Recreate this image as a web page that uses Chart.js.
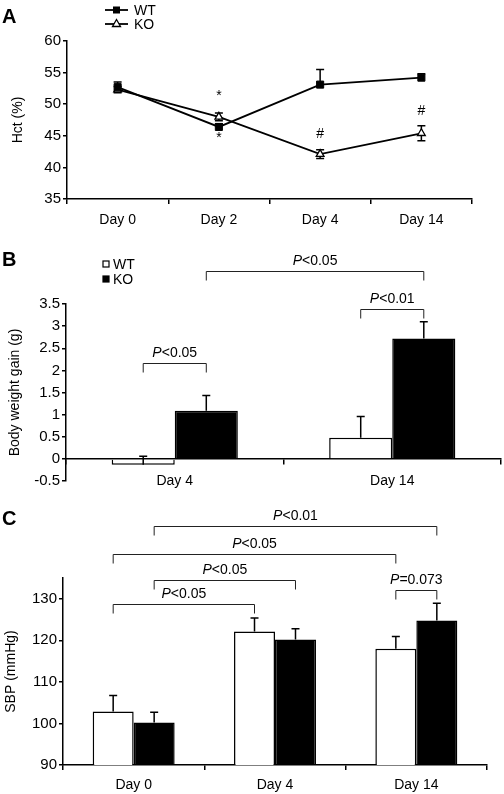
<!DOCTYPE html>
<html>
<head>
<meta charset="utf-8">
<script src="https://cdn.jsdelivr.net/npm/chart.js@4/dist/chart.umd.min.js"></script>
<style>
  html,body{margin:0;padding:0;background:#fff;}
  #wrap{position:relative;width:504px;height:794px;}
  canvas{position:absolute;left:0;}
</style>
</head>
<body>
<div id="wrap">
  <canvas id="cA" width="504" height="232" style="top:0"></canvas>
  <canvas id="cB" width="504" height="260" style="top:232px"></canvas>
  <canvas id="cC" width="504" height="302" style="top:492px"></canvas>
</div>
<script>
// panel A - hematocrit
const hctDays=['Day 0','Day 2','Day 4','Day 14'];
const hctWT=[52.7,46.4,53.1,54.2];
const hctWTerr=[0.8,0.5,2.4,0.6];
const hctKO=[52.3,48.0,42.1,45.4];
const hctKOerr=[0.5,0.6,0.7,1.2];
// [day, level, symbol]
const hctMarks=[[1,51.3,'*'],[1,44.6,'*'],[2,45.3,'#'],[3,48.9,'#']];

// panel B - body weight gain
const bwDays=['Day 4','Day 14'];
const bwWT=[-0.13,0.48];
const bwWTerr=[0.19,0.48];
const bwKO=[1.09,2.72];
const bwKOerr=[0.34,0.38];
// [dataset, day, dataset, day, level, text]
const bwBrackets=[[0,0,1,0,2.17,'P<0.05'],[0,1,1,1,3.39,'P<0.01'],[1,0,1,1,4.25,'P<0.05']];

// panel C - systolic blood pressure
const sbpDays=['Day 0','Day 4','Day 14'];
const sbpWT=[102.9,122.1,118.0];
const sbpWTerr=[3.8,3.3,2.9];
const sbpKO=[100.2,120.2,124.8];
const sbpKOerr=[2.5,2.6,4.1];
const sbpBrackets=[[0,0,0,1,128.8,'P<0.05'],[1,0,1,1,134.4,'P<0.05'],[0,0,0,2,140.7,'P<0.05'],[1,0,1,2,147.5,'P<0.01'],[0,2,1,2,132,'P=0.073']];

const F='"Liberation Sans", Arial, Helvetica, sans-serif';
Chart.defaults.font.family=F;
Chart.defaults.font.size=14;
Chart.defaults.color='#000';

function pText(ctx,s,x,y){
  let head='',rest=s;
  if(s[0]==='P'){head='P';rest=s.slice(1);}
  ctx.font='italic 14px '+F;
  const w1=ctx.measureText(head).width;
  ctx.font='14px '+F;
  const w2=ctx.measureText(rest).width;
  const x0=x-(w1+w2)/2;
  ctx.textAlign='left';ctx.textBaseline='middle';
  ctx.font='italic 14px '+F; ctx.fillText(head,x0,y);
  ctx.font='14px '+F; ctx.fillText(rest,x0+w1,y);
}

function drawErrors(chart,err){
  const ctx=chart.ctx, ys=chart.scales.y;
  ctx.save();
  ctx.strokeStyle='#000';ctx.lineWidth=1.5;
  err.forEach((e,i)=>{
    const meta=chart.getDatasetMeta(i);
    const vals=chart.data.datasets[i].data;
    e.v.forEach((d,j)=>{
      const x=meta.data[j].x;
      const top=ys.getPixelForValue(vals[j]+d);
      const bot=ys.getPixelForValue(e.both ? vals[j]-d : vals[j]);
      ctx.beginPath();
      ctx.moveTo(x,bot);ctx.lineTo(x,top);
      ctx.moveTo(x-4,top);ctx.lineTo(x+4,top);
      if(e.both){ctx.moveTo(x-4,bot);ctx.lineTo(x+4,bot);}
      ctx.stroke();
    });
  });
  ctx.restore();
}

function figure(cfg){
  return {
    id:'figure'+cfg.letter,
    beforeDatasetsDraw(chart){ if(cfg.errBehind) drawErrors(chart,cfg.err); },
    afterDatasetsDraw(chart){ if(!cfg.errBehind) drawErrors(chart,cfg.err); },
    afterDraw(chart){
      const ctx=chart.ctx, ys=chart.scales.y, xs=chart.scales.x;
      ctx.save();
      ctx.fillStyle='#000';ctx.strokeStyle='#000';
      ctx.font='bold 20px '+F;ctx.textBaseline='middle';ctx.textAlign='left';
      ctx.fillText(cfg.letter,cfg.letterAt[0],cfg.letterAt[1]);

      // legend
      const lg=cfg.legend;
      if(lg) chart.data.datasets.forEach((ds,i)=>{
        const y=lg.y+i*lg.gap;
        if(lg.kind==='line'){
          ctx.lineWidth=1.8;
          ctx.beginPath();ctx.moveTo(lg.x,y);ctx.lineTo(lg.x+23,y);ctx.stroke();
          const cx=lg.x+11.5;
          ctx.lineWidth=1.3;
          if(ds.pointStyle==='rect'){
            ctx.fillRect(cx-3.5,y-3.5,7,7);
          }else{
            ctx.beginPath();ctx.moveTo(cx,y-4.5);ctx.lineTo(cx+4,y+2.5);ctx.lineTo(cx-4,y+2.5);ctx.closePath();
            ctx.fillStyle='#fff';ctx.fill();ctx.stroke();ctx.fillStyle='#000';
          }
          ctx.font='14px '+F;ctx.fillText(ds.label,lg.x+29,y+1);
        }else{
          ctx.lineWidth=1.2;
          ctx.fillStyle=ds.backgroundColor;
          ctx.fillRect(lg.x,y-3,6,6);
          ctx.strokeRect(lg.x,y-3,6,6);
          ctx.fillStyle='#000';
          ctx.font='14px '+F;ctx.fillText(ds.label,lg.x+10,y+1);
        }
      });

      // significance brackets
      (cfg.brackets||[]).forEach(b=>{
        const x1=chart.getDatasetMeta(b[0]).data[b[1]].x;
        const x2=chart.getDatasetMeta(b[2]).data[b[3]].x;
        const y=Math.round(ys.getPixelForValue(b[4]))+0.5;
        ctx.lineWidth=1;ctx.strokeStyle='#222';
        ctx.beginPath();
        ctx.moveTo(x1,y+9);ctx.lineTo(x1,y);ctx.lineTo(x2,y);ctx.lineTo(x2,y+9);
        ctx.stroke();
        pText(ctx,b[5],(x1+x2)/2,y-10);
      });

      // symbols
      (cfg.marks||[]).forEach(m=>{
        ctx.font='14px '+F;ctx.textAlign='center';ctx.textBaseline='middle';
        ctx.fillText(m[2],xs.getPixelForValue(m[0]),ys.getPixelForValue(m[1]));
      });
      ctx.restore();
    }
  };
}

const axisGrid=(len)=>({drawOnChartArea:false,tickLength:len,color:'#000',lineWidth:1.5});
const axisBorder={color:'#000',width:1.5};
const yFont={size:15};

new Chart(document.getElementById('cA'),{
  type:'line',
  data:{labels:hctDays,datasets:[
    {label:'WT',data:hctWT,borderColor:'#000',borderWidth:1.8,tension:0,
     pointStyle:'rect',pointRadius:5,pointBackgroundColor:'#000',pointBorderColor:'#000',pointBorderWidth:1},
    {label:'KO',data:hctKO,borderColor:'#000',borderWidth:1.8,tension:0,
     pointStyle:'triangle',pointRadius:4.5,pointBackgroundColor:'#fff',pointBorderColor:'#000',pointBorderWidth:1.3}
  ]},
  options:{
    responsive:false,animation:false,
    layout:{padding:{top:41,right:32,bottom:0,left:0}},
    plugins:{legend:{display:false},tooltip:{enabled:false}},
    scales:{
      x:{offset:true,grid:{...axisGrid(5),offset:true},border:axisBorder,
         ticks:{padding:8,maxRotation:0},afterFit(s){s.height=33;}},
      y:{min:35,max:60,ticks:{stepSize:5,padding:2,font:yFont},grid:axisGrid(4),border:axisBorder,
         title:{display:true,text:'Hct (%)',padding:{top:10}},afterFit(s){s.width=67;}}
    }
  },
  plugins:[figure({letter:'A',letterAt:[2,17],errBehind:true,
    err:[{v:hctWTerr,both:false},{v:hctKOerr,both:true}],
    legend:{kind:'line',x:105,y:10,gap:14},marks:hctMarks})]
});

new Chart(document.getElementById('cB'),{
  type:'bar',
  data:{labels:bwDays,datasets:[
    {label:'WT',data:bwWT,backgroundColor:'#fff',borderColor:'#000',borderWidth:1.5},
    {label:'KO',data:bwKO,backgroundColor:'#000',borderColor:'#000',borderWidth:1.5}
  ]},
  options:{
    responsive:false,animation:false,
    datasets:{bar:{categoryPercentage:0.58,barPercentage:1}},
    layout:{padding:{top:72,right:3,bottom:9,left:0}},
    plugins:{legend:{display:false},tooltip:{enabled:false}},
    scales:{
      x:{position:{y:0},grid:axisGrid(5),border:axisBorder,ticks:{padding:9,maxRotation:0}},
      y:{min:-0.5,max:3.5,ticks:{stepSize:0.5,padding:2,font:yFont,callback:v=>String(Math.round(v*10)/10)},
         grid:axisGrid(4),border:axisBorder,
         title:{display:true,text:'Body weight gain (g)',padding:{top:7}},afterFit(s){s.width=66;}}
    }
  },
  plugins:[figure({letter:'B',letterAt:[2,28],errBehind:false,
    err:[{v:bwWTerr,both:false},{v:bwKOerr,both:false}],
    legend:{kind:'box',x:103,y:32,gap:15},brackets:bwBrackets})]
});

new Chart(document.getElementById('cC'),{
  type:'bar',
  data:{labels:sbpDays,datasets:[
    {label:'WT',data:sbpWT,backgroundColor:'#fff',borderColor:'#000',borderWidth:1.5},
    {label:'KO',data:sbpKO,backgroundColor:'#000',borderColor:'#000',borderWidth:1.5}
  ]},
  options:{
    responsive:false,animation:false,
    datasets:{bar:{categoryPercentage:0.58,barPercentage:1}},
    layout:{padding:{top:86,right:17,bottom:0,left:0}},
    plugins:{legend:{display:false},tooltip:{enabled:false}},
    scales:{
      x:{grid:axisGrid(5),border:axisBorder,ticks:{padding:7,maxRotation:0},afterFit(s){s.height=29;}},
      y:{min:90,max:135,ticks:{stepSize:5,padding:2,font:yFont,callback:v=>v%10===0?v:''},grid:axisGrid(4),border:axisBorder,
         title:{display:true,text:'SBP (mmHg)',padding:{top:3}},afterFit(s){s.width=63;}}
    }
  },
  plugins:[figure({letter:'C',letterAt:[2,27],errBehind:false,
    err:[{v:sbpWTerr,both:false},{v:sbpKOerr,both:false}],
    brackets:sbpBrackets})]
});
</script>
</body>
</html>
